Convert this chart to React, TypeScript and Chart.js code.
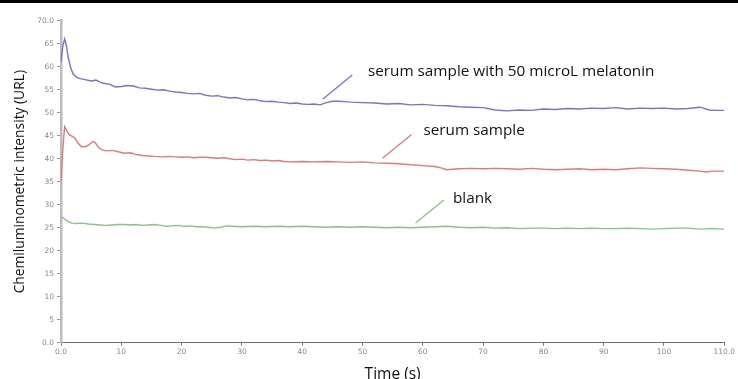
import React, { useEffect, useRef } from "react";
import { Chart, registerables } from "chart.js";

Chart.register(...registerables);

// ---- Data (time in s, chemiluminometric intensity) ----
const melatoninSeries: [number, number][] = [
  [0, 61.0], [0.3, 64.5], [0.6, 66.0], [0.9, 64.5], [1.2, 62.0], [1.6, 59.8], [2.0, 58.4],
  [2.6, 57.7], [3.2, 57.4], [4.0, 57.2], [5.0, 56.9], [5.8, 57.1], [6.4, 56.7], [7.0, 56.4],
  [8.0, 56.2], [9.0, 55.6], [10.0, 55.7], [11.0, 55.9], [12.0, 55.8], [13.0, 55.4], [14.0, 55.3],
  [15.0, 55.1], [16.0, 54.9], [17.0, 55.0], [18.0, 54.7], [19.0, 54.5], [20.0, 54.4], [21.0, 54.2],
  [22.0, 54.1], [23.0, 54.2], [24.0, 53.8], [25.0, 53.6], [26.0, 53.7], [27.0, 53.4], [28.0, 53.2],
  [29.0, 53.3], [30.0, 53.0], [31.0, 52.8], [32.0, 52.9], [33.0, 52.6], [34.0, 52.4], [35.0, 52.5],
  [36.0, 52.3], [37.0, 52.2], [38.0, 52.0], [39.0, 52.1], [40.0, 51.9], [41.0, 51.8], [42.0, 51.9],
  [43.0, 51.7], [44.0, 52.2], [45.0, 52.5], [46.0, 52.5], [47.0, 52.4], [48.0, 52.3], [50.0, 52.2],
  [52.0, 52.1], [54.0, 51.9], [56.0, 52.0], [58.0, 51.7], [60.0, 51.8], [62.0, 51.6], [64.0, 51.5],
  [66.0, 51.3], [68.0, 51.2], [70.0, 51.1], [72.0, 50.6], [74.0, 50.4], [76.0, 50.6], [78.0, 50.5],
  [80.0, 50.8], [82.0, 50.7], [84.0, 50.9], [86.0, 50.8], [88.0, 51.0], [90.0, 50.9], [92.0, 51.1],
  [94.0, 50.8], [96.0, 51.0], [98.0, 50.9], [100.0, 51.0], [102.0, 50.8], [104.0, 50.9],
  [106.0, 51.2], [107.5, 50.6], [109.0, 50.5], [110.0, 50.5],
];

const serumSeries: [number, number][] = [
  [0, 35.0], [0.3, 42.0], [0.6, 47.0], [0.9, 46.3], [1.3, 45.3], [1.8, 44.9], [2.3, 44.5],
  [2.8, 43.4], [3.4, 42.6], [4.0, 42.6], [4.6, 43.0], [5.2, 43.7], [5.6, 43.6], [6.2, 42.5],
  [6.8, 41.9], [7.5, 41.7], [8.5, 41.8], [9.5, 41.5], [10.5, 41.2], [11.5, 41.3], [12.5, 40.9],
  [13.5, 40.7], [14.5, 40.6], [15.5, 40.5], [17, 40.4], [18, 40.5], [19, 40.4], [20, 40.3],
  [21, 40.4], [22, 40.2], [23, 40.3], [24, 40.3], [25, 40.2], [26, 40.1], [27, 40.2], [28, 40.0],
  [29, 39.8], [30, 39.9], [31, 39.7], [32, 39.8], [33, 39.6], [34, 39.7], [35, 39.5], [36, 39.6],
  [37, 39.4], [38, 39.3], [40, 39.4], [42, 39.3], [44, 39.4], [46, 39.3], [48, 39.2], [50, 39.3],
  [52, 39.1], [54, 39.0], [56, 38.9], [58, 38.7], [60, 38.5], [62, 38.3], [63, 38.0], [64, 37.6],
  [65, 37.7], [66, 37.8], [68, 37.9], [70, 37.8], [72, 37.9], [74, 37.8], [76, 37.7], [78, 37.9],
  [80, 37.7], [82, 37.6], [84, 37.7], [86, 37.8], [88, 37.6], [90, 37.7], [92, 37.6], [94, 37.8],
  [96, 38.0], [98, 37.9], [100, 37.8], [102, 37.7], [104, 37.5], [106, 37.3], [107, 37.1],
  [108, 37.3], [110, 37.3],
];

const blankSeries: [number, number][] = [
  [0, 27.4], [0.5, 27.0], [1.0, 26.5], [1.8, 26.0], [2.5, 25.9], [3.5, 26.0], [4.5, 25.8],
  [5.5, 25.7], [6.5, 25.6], [7.5, 25.5], [8.5, 25.6], [9.5, 25.7], [10.5, 25.7], [11.5, 25.6],
  [12.5, 25.7], [13.5, 25.5], [14.5, 25.6], [15.5, 25.7], [16.5, 25.5], [17.5, 25.3], [18.5, 25.4],
  [19.5, 25.5], [20.5, 25.3], [21.5, 25.4], [22.5, 25.2], [23.5, 25.2], [24.5, 25.1], [25.5, 24.9],
  [26.5, 25.1], [27.5, 25.4], [28.5, 25.3], [30, 25.2], [32, 25.3], [34, 25.2], [36, 25.3],
  [38, 25.2], [40, 25.3], [42, 25.2], [44, 25.1], [46, 25.2], [48, 25.1], [50, 25.2], [52, 25.1],
  [54, 25.0], [56, 25.1], [58, 25.0], [60, 25.1], [62, 25.2], [64, 25.3], [66, 25.1], [68, 25.0],
  [70, 25.1], [72, 24.9], [74, 25.0], [76, 24.8], [78, 24.9], [80, 24.9], [82, 24.8], [84, 24.9],
  [86, 24.8], [88, 24.9], [90, 24.8], [92, 24.8], [94, 24.9], [96, 24.8], [98, 24.7], [100, 24.8],
  [102, 24.9], [104, 24.9], [106, 24.7], [108, 24.8], [110, 24.7],
];

const seriesNames = ["serum sample with 50 microL melatonin", "serum sample", "blank"];
const seriesColors = ["#7474d6", "#e07a7a", "#86c486"];

// Callout annotations in data units: [lineStartT, lineStartV, lineEndT, lineEndV, textT, textV]
const calloutAnchors: [number, number, number, number, number, number][] = [
  [43.4, 52.9, 48.3, 58.2, 50.9, 58.9],
  [53.3, 40.1, 58.1, 45.2, 60.1, 46.2],
  [58.8, 26.0, 63.5, 31.0, 65.0, 31.4],
];

const xTitle = "Time (s)";
const yTitle = "Chemiluminometric intensity (URL)";
const xMin = 0, xMax = 110, xStep = 10;
const yMin = 0, yMax = 70, yStep = 5;

const W = 738, H = 379;

const calloutPlugin = {
  id: "callouts",
  afterDatasetsDraw(chart: any) {
    const { ctx, scales } = chart;
    const xs = scales.x, ys = scales.y;
    ctx.save();
    calloutAnchors.forEach((a, i) => {
      ctx.strokeStyle = seriesColors[i];
      ctx.lineWidth = 1.3;
      ctx.beginPath();
      ctx.moveTo(xs.getPixelForValue(a[0]), ys.getPixelForValue(a[1]));
      ctx.lineTo(xs.getPixelForValue(a[2]), ys.getPixelForValue(a[3]));
      ctx.stroke();
      ctx.fillStyle = "#111";
      ctx.font = '15.3px "Open Sans"';
      ctx.textBaseline = "middle";
      ctx.textAlign = "left";
      ctx.fillText(seriesNames[i], xs.getPixelForValue(a[4]), ys.getPixelForValue(a[5]));
    });
    ctx.restore();
  },
};

export default function App() {
  const ref = useRef<HTMLCanvasElement>(null);
  useEffect(() => {
    if (!ref.current) return;
    const series = [melatoninSeries, serumSeries, blankSeries];
    const chart = new Chart(ref.current, {
      type: "line",
      data: {
        datasets: series.map((s, i) => ({
          label: seriesNames[i],
          data: s.map(([x, y]) => ({ x, y })),
          borderColor: seriesColors[i],
          borderWidth: 1.4,
          pointRadius: 0,
          tension: 0,
          fill: false,
        })),
      },
      options: {
        animation: false,
        responsive: false,
        devicePixelRatio: 1,
        layout: { padding: { top: 20.7, right: 13.7, left: 0, bottom: 0 } },
        plugins: { legend: { display: false }, tooltip: { enabled: false } },
        scales: {
          x: {
            type: "linear",
            min: xMin,
            max: xMax,
            afterFit: (s: any) => { s.height = H - 342.7; },
            ticks: {
              stepSize: xStep,
              autoSkip: false,
              maxRotation: 0,
              padding: 2,
              color: "#888",
              font: { family: "DejaVu Sans", size: 7.5 },
              callback: (v: any) => (v === xMin || v === xMax ? Number(v).toFixed(1) : String(v)),
            },
            grid: { drawOnChartArea: false, drawTicks: true, tickLength: 3, color: "#777" },
            border: { color: "#707070", width: 1 },
            title: {
              display: true,
              text: xTitle,
              color: "#111",
              font: { family: "Open Sans", size: 15.5, lineHeight: 1.2 },
              padding: { top: 0, bottom: -5 },
            },
          },
          y: {
            type: "linear",
            min: yMin,
            max: yMax,
            afterFit: (s: any) => { s.width = 61; },
            ticks: {
              stepSize: yStep,
              padding: 3,
              color: "#888",
              font: { family: "DejaVu Sans", size: 7.5 },
              callback: (v: any) => (v === yMin || v === yMax ? Number(v).toFixed(1) : String(v)),
            },
            grid: { drawOnChartArea: false, drawTicks: true, tickLength: 4, color: "#999" },
            border: { color: "#bcbcbc", width: 2.5 },
            title: {
              display: true,
              text: yTitle,
              color: "#111",
              font: { family: "Open Sans", size: 13.8, lineHeight: 1.2 },
              padding: { top: 12, bottom: 0 },
            },
          },
        },
      },
      plugins: [calloutPlugin],
    } as any);
    return () => chart.destroy();
  }, []);

  return (
    <div style={{ position: "fixed", left: 0, top: 0, width: W, height: H, background: "#fff", overflow: "hidden" }}>
      <canvas ref={ref} width={W} height={H} style={{ width: W, height: H, display: "block" }} />
      <div style={{ position: "absolute", left: 0, top: 0, width: W, height: 3, background: "#000" }} />
    </div>
  );
}
